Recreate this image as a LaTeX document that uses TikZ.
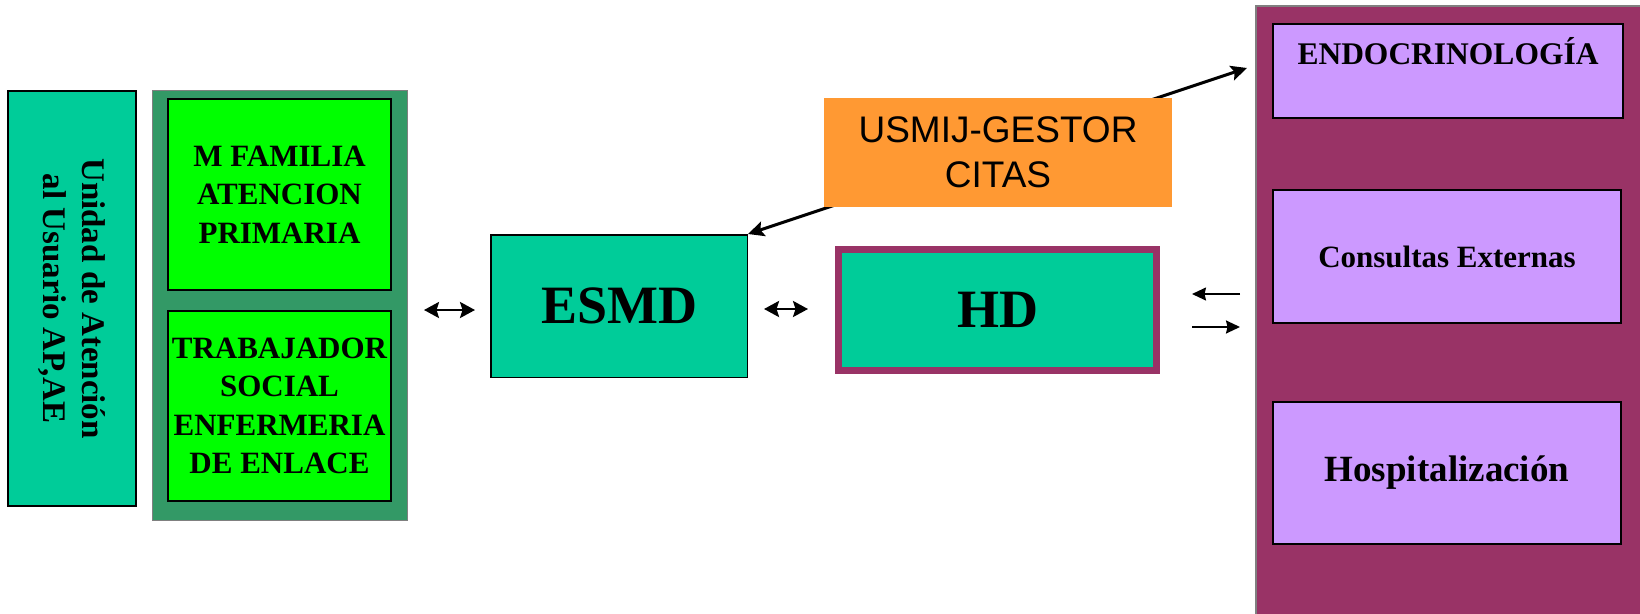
\documentclass[tikz,border=0pt]{standalone}
\usepackage{fontspec}
\setmainfont{Liberation Serif}
\newfontfamily\arialfont{Liberation Sans}
\usetikzlibrary{arrows.meta}

\definecolor{cteal}{HTML}{00CC99}
\definecolor{cdkgreen}{HTML}{339966}
\definecolor{cgreen}{HTML}{00FF00}
\definecolor{corange}{HTML}{FF9933}
\definecolor{cmaroon}{HTML}{993366}
\definecolor{clav}{HTML}{CC99FF}

\begin{document}
\begin{tikzpicture}[x=1pt,y=-1pt,
  box/.style={draw=black, line width=2pt, inner sep=0pt, align=center},
  bigtxt/.style={font=\fontsize{54}{60}\selectfont\bfseries},
  midtxt/.style={font=\fontsize{31}{38.5}\selectfont\bfseries},
  dbl/.style={line width=2.6pt,
    {Stealth[length=15pt,width=16pt,inset=2.5pt]}-{Stealth[length=15pt,width=16pt,inset=2.5pt]}},
  diag/.style={line width=3pt,
    {Stealth[length=16pt,width=15pt,inset=3pt]}-{Stealth[length=16pt,width=15pt,inset=3pt]}},
  thin/.style={line width=1.8pt, -{Stealth[length=14pt,width=13pt,inset=1.5pt]}}
]
\useasboundingbox (0,0) rectangle (1640,613);
\clip (0,0) rectangle (1640,613);
\fill[white] (0,0) rectangle (1640,613);

% user service unit (vertical text)
\node[box, fill=cteal, rotate=-90, minimum width=415pt, minimum height=128pt,
      font=\fontsize{33}{38.5}\selectfont\bfseries] (unidad) at (72,298.5)
  {Unidad de Atención\\al Usuario AP,AE};

% primary care group
\node[draw=gray, line width=1pt, fill=cdkgreen, minimum width=255pt,
      minimum height=430pt, inner sep=0pt] (grupo) at (280,305.5) {};
\node[box, fill=cgreen, midtxt, minimum width=223pt, minimum height=191pt]
  (mfam) at (279.5,194.5) {M FAMILIA\\ATENCION\\PRIMARIA};
\node[box, fill=cgreen, midtxt, minimum width=223pt, minimum height=190pt]
  (tsoc) at (279.5,406) {TRABAJADOR\\SOCIAL\\ENFERMERIA\\DE ENLACE};

% ESMD and HD
\node[box, line width=1.5pt, fill=cteal, bigtxt, minimum width=256.5pt,
      minimum height=142.5pt] (esmd) at (619,306) {ESMD};
\node[box, draw=cmaroon, line width=7pt, fill=cteal, bigtxt, minimum width=318pt,
      minimum height=121pt] (hd) at (997.5,310) {HD};

% hospital services
\node[draw=gray, line width=1.5pt, fill=cmaroon, anchor=north west,
      minimum width=420pt, minimum height=640pt, inner sep=0pt] (hosp) at (1255,5) {};
\node[box, fill=clav, font=\fontsize{31.5}{36}\selectfont\bfseries,
      minimum width=350pt, minimum height=94.5pt, text height=21pt, text depth=34pt]
  (endo) at (1448,71) {ENDOCRINOLOGÍA};
\node[box, fill=clav, font=\fontsize{31}{36}\selectfont\bfseries,
      minimum width=348pt, minimum height=133.7pt] (cext) at (1447,256.6) {Consultas Externas};
\node[box, fill=clav, font=\fontsize{37}{42}\selectfont\bfseries,
      minimum width=348pt, minimum height=142pt] (hosz) at (1447,472.6) {Hospitalización};

% connectors
\draw[dbl, shorten <=16pt, shorten >=15pt]
  ([yshift=-4.5pt]grupo.east) -- ([yshift=-4.5pt]grupo.east -| esmd.west);
\draw[dbl, shorten <=16pt, shorten >=27pt]
  ([yshift=-3pt]esmd.east) -- ([yshift=-3pt]esmd.east -| hd.west);
\draw[diag] (esmd.north east) -- ([xshift=-25pt,yshift=3pt]endo.west);

\coordinate (inS) at (1240,294);
\coordinate (inE) at (1192,294);
\coordinate (outS) at (1192,327);
\coordinate (outE) at (1240,327);
\draw[thin] (inS) -- (inE);
\draw[thin] (outS) -- (outE);

% appointment manager, drawn over the connector
\node[fill=corange, minimum width=348pt, minimum height=109pt, inner sep=0pt,
      align=center, font=\arialfont\fontsize{37}{45}\selectfont] (usmij) at (998,152.5)
  {USMIJ-GESTOR\\CITAS};
\end{tikzpicture}
\end{document}
